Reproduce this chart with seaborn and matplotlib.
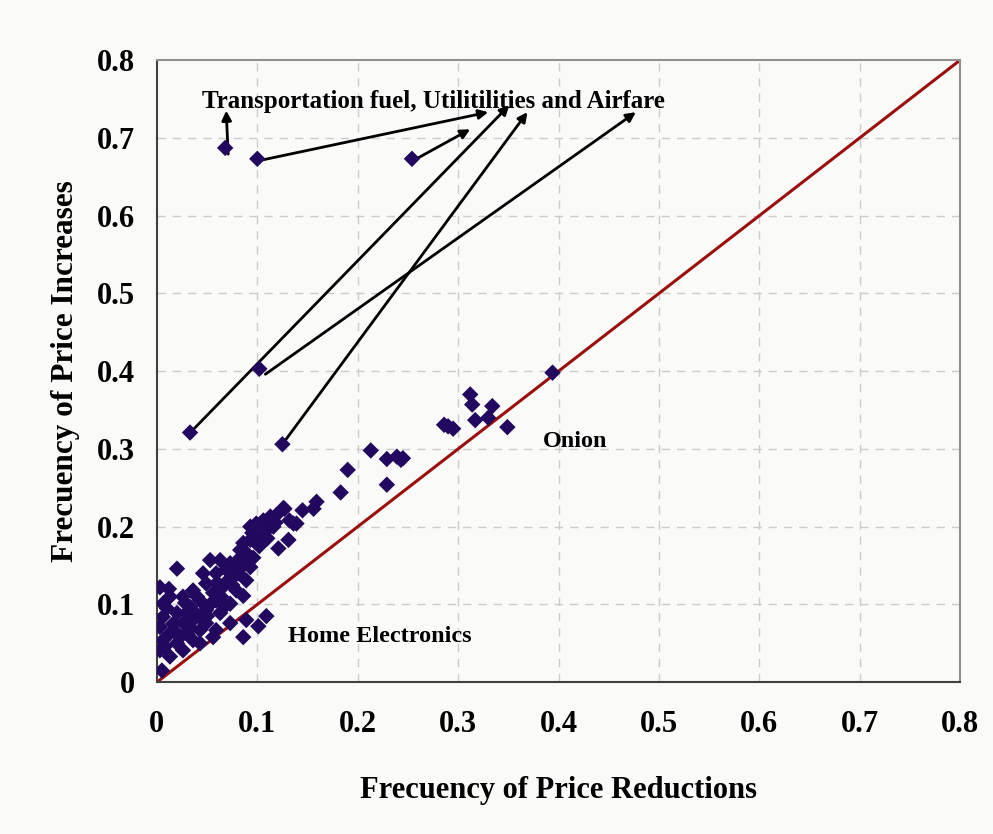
import pandas as pd
import matplotlib.pyplot as plt
import seaborn as sns

# frequency of price reductions (x) and increases (y), one entry per product
reductions = [0.068, 0.100, 0.254, 0.102, 0.033, 0.125, 0.394,
              0.312, 0.314, 0.334, 0.317, 0.330, 0.349, 0.286, 0.290, 0.295,
              0.213, 0.229, 0.239, 0.245, 0.243, 0.190, 0.229, 0.183, 0.159, 0.156,
              0.145, 0.127, 0.136, 0.131, 0.121, 0.139,
              0.093, 0.099, 0.106, 0.113, 0.119, 0.126, 0.132, 0.109, 0.093, 0.086,
              0.099, 0.083, 0.116, 0.104,
              0.053, 0.063, 0.073, 0.079, 0.093, 0.046, 0.059, 0.076, 0.089, 0.049,
              0.066, 0.079, 0.036, 0.026, 0.013, 0.006, 0.043, 0.059, 0.073, 0.033,
              0.049, 0.063, 0.020, 0.006, 0.036, 0.049, 0.026, 0.003, 0.013, 0.030,
              0.043, 0.006, 0.020, 0.036, 0.003, 0.013, 0.026, 0.059, 0.056, 0.043,
              0.020, 0.003, 0.086, 0.073, 0.089, 0.109, 0.101, 0.086, 0.005,
              0.069, 0.083, 0.090, 0.070, 0.056, 0.040, 0.030, 0.016, 0.010, 0.023,
              0.033, 0.050, 0.064, 0.075, 0.081, 0.096, 0.102, 0.110, 0.053, 0.046,
              0.039, 0.018, 0.008, 0.028, 0.060, 0.086, 0.095, 0.118, 0.068, 0.012]
increases = [0.687, 0.673, 0.673, 0.403, 0.321, 0.306, 0.398,
             0.370, 0.357, 0.355, 0.337, 0.340, 0.328, 0.331, 0.329, 0.326,
             0.298, 0.287, 0.290, 0.288, 0.286, 0.273, 0.254, 0.244, 0.232, 0.223,
             0.221, 0.223, 0.204, 0.183, 0.172, 0.204,
             0.200, 0.204, 0.208, 0.213, 0.215, 0.224, 0.208, 0.195, 0.183, 0.179,
             0.179, 0.170, 0.200, 0.190,
             0.157, 0.157, 0.153, 0.148, 0.148, 0.140, 0.140, 0.135, 0.131, 0.127,
             0.123, 0.118, 0.118, 0.110, 0.110, 0.101, 0.105, 0.105, 0.101, 0.097,
             0.093, 0.089, 0.089, 0.084, 0.080, 0.076, 0.076, 0.071, 0.063, 0.063,
             0.067, 0.054, 0.050, 0.054, 0.041, 0.033, 0.041, 0.067, 0.058, 0.050,
             0.146, 0.122, 0.111, 0.076, 0.080, 0.085, 0.072, 0.058, 0.015,
             0.145, 0.160, 0.165, 0.130, 0.115, 0.110, 0.090, 0.075, 0.095, 0.058,
             0.070, 0.085, 0.110, 0.125, 0.140, 0.160, 0.175, 0.185, 0.100, 0.080,
             0.088, 0.065, 0.046, 0.102, 0.128, 0.150, 0.192, 0.205, 0.098, 0.120]

diag = [0, 0.8]
ticks = [0, 0.1, 0.2, 0.3, 0.4, 0.5, 0.6, 0.7, 0.8]
tick_labels = ['0', '0.1', '0.2', '0.3', '0.4', '0.5', '0.6', '0.7', '0.8']

# arrows: tail near a point, head under the label
arrow_tail = [(0.071, 0.679), (0.103, 0.671), (0.257, 0.672), (0.034, 0.322),
              (0.125, 0.306), (0.108, 0.396)]
arrow_head = [(0.069, 0.735), (0.330, 0.733), (0.312, 0.711), (0.351, 0.742),
              (0.369, 0.733), (0.477, 0.733)]

df = pd.DataFrame({'reductions': reductions, 'increases': increases})

sns.set_style('white')
plt.rcParams['font.family'] = ['Liberation Serif', 'DejaVu Serif']
plt.rcParams['font.weight'] = 'bold'
plt.rcParams['text.color'] = 'black'
plt.rcParams['axes.labelcolor'] = 'black'
plt.rcParams['xtick.color'] = 'black'
plt.rcParams['ytick.color'] = 'black'

bg = '#fafaf8'
fig = plt.figure(figsize=(9.93, 8.34), dpi=100, facecolor=bg)
ax = fig.add_axes([0.158, 0.182, 0.809, 0.746], facecolor=bg)

for t in ticks[1:-1]:
    ax.axvline(t, color='#cccccc', lw=1, ls=(0, (6, 5)), zorder=0)
    ax.axhline(t, color='#cccccc', lw=1, ls=(0, (6, 5)), zorder=0)

ax.plot(diag, diag, color='#9b0f0f', lw=2.2, zorder=2)

for (x0, y0), (x1, y1) in zip(arrow_tail, arrow_head):
    ax.annotate('', xy=(x1, y1), xytext=(x0, y0),
                arrowprops=dict(arrowstyle='-|>', color='black', lw=2,
                                mutation_scale=14, shrinkA=0, shrinkB=0), zorder=3)

sns.scatterplot(data=df, x='reductions', y='increases', marker='D', s=70,
                color='#22085e', edgecolor='none', linewidth=0, ax=ax, zorder=4)

ax.text(0.275, 0.747, 'Transportation fuel, Utilitilities and Airfare',
        ha='center', va='center', fontsize=18, fontweight='bold')
ax.text(0.416, 0.309, 'Onion', ha='center', va='center', fontsize=17.5, fontweight='bold')
ax.text(0.222, 0.059, 'Home Electronics', ha='center', va='center',
        fontsize=17.5, fontweight='bold')

ax.set_xlim(0, 0.8)
ax.set_ylim(0, 0.8)
ax.set_xticks(ticks)
ax.set_yticks(ticks)
ax.set_xticklabels(tick_labels, fontsize=22, fontweight='bold')
ax.set_yticklabels(tick_labels, fontsize=22, fontweight='bold')
ax.tick_params(axis='both', direction='out', length=6, width=1.2, color='#404040')
ax.tick_params(axis='x', pad=14)
ax.tick_params(axis='y', pad=10)

for side in ['left', 'bottom']:
    ax.spines[side].set_color('#404040')
    ax.spines[side].set_linewidth(1.5)
for side in ['top', 'right']:
    ax.spines[side].set_color('#909090')
    ax.spines[side].set_linewidth(1.5)

ax.set_xlabel('Frecuency of Price Reductions', fontsize=22, fontweight='bold', labelpad=27)
ax.set_ylabel('Frecuency of Price Increases', fontsize=22.5, fontweight='bold', labelpad=12)

fig.savefig('out.png', dpi=100, facecolor=bg)
